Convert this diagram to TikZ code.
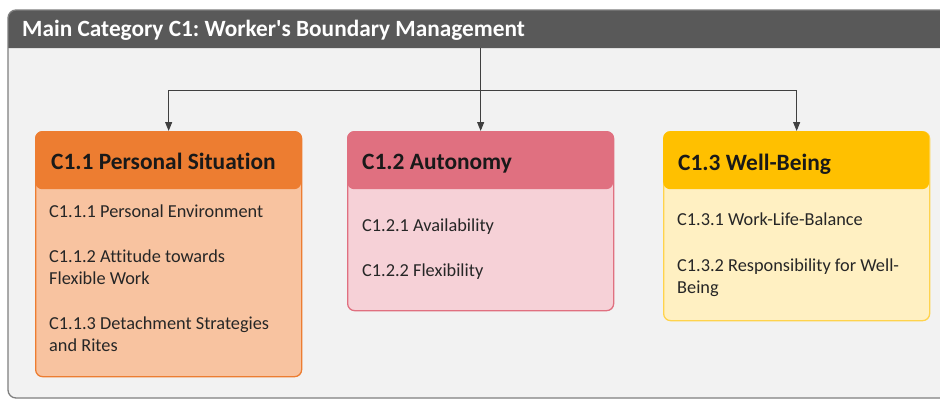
\documentclass[tikz,border=0pt]{standalone}
\usepackage{fontspec}
\setmainfont{Carlito}[Ligatures={TeXOff,NoCommon}]
\usetikzlibrary{arrows.meta}
\frenchspacing
\definecolor{barc}{HTML}{595959}
\definecolor{bodyg}{HTML}{F2F2F2}
\definecolor{framec}{HTML}{7F7F7F}
\definecolor{orH}{HTML}{ED7D31}
\definecolor{orB}{HTML}{F8C3A0}
\definecolor{piH}{HTML}{E07080}
\definecolor{piB}{HTML}{F6D1D7}
\definecolor{yeH}{HTML}{FFC000}
\definecolor{yeB}{HTML}{FFF0C2}
\definecolor{yeD}{HTML}{FFD34D}
\definecolor{linec}{HTML}{404040}
\tikzset{
  boxbody/.style={rectangle, rounded corners=7pt, line width=1.3pt, inner sep=0pt, anchor=north west, minimum width=266pt},
  boxhead/.style={rectangle, rounded corners=7pt, inner sep=0pt, anchor=north west, minimum width=266pt, minimum height=58pt},
  hdr/.style={font=\bfseries\fontsize{23.4}{26}\selectfont, text=black!90, inner sep=0pt, anchor=base west},
  itm/.style={font=\fontsize{18.3}{22}\selectfont, text=black!85, inner sep=0pt, anchor=base west, align=left},
  arr/.style={draw=linec, line width=0.9pt, -{Triangle[width=7pt,length=9pt]}},
}
\begin{document}
\begin{tikzpicture}[x=1pt,y=-1pt]
\useasboundingbox (0,0) rectangle (940,399);
\fill[white] (0,0) rectangle (940,399);
\begin{scope}
\clip (0,0) rectangle (940,399);
\fill[bodyg, rounded corners=8pt] (8,10) rectangle (970,398);
\node[anchor=north west, minimum width=962pt, minimum height=38pt, inner sep=0pt] (bar) at (8,10) {};
\fill[barc, rounded corners=8pt] (8,10) rectangle (970,40);
\fill[barc] (8,30) rectangle (970,48);
\draw[white!80!barc, line width=0.8pt] (8,48) -- (970,48);
\draw[framec, line width=1.3pt, rounded corners=8pt] (8,10) rectangle (970,398);
\end{scope}
\node[font=\bfseries\fontsize{23.3}{26}\selectfont, text=white, inner sep=0pt, anchor=base west] (title) at (22,36.7) {Main Category C1: Worker's Boundary Management};

% boxes
\node[boxbody, draw=orH, fill=orB, minimum height=245pt] (b1) at (35,131) {};
\node[boxhead, fill=orH] (h1) at (35,131) {};
\node[boxbody, draw=piH, fill=piB, minimum height=179pt] (b2) at (347,131) {};
\node[boxhead, fill=piH] (h2) at (347,131) {};
\node[boxbody, draw=yeD, fill=yeB, minimum height=189pt] (b3) at (663,131) {};
\node[boxhead, fill=yeH] (h3) at (663,131) {};

\node[hdr] (t1) at (51,169) {C1.1 Personal Situation};
\node[hdr] (t2) at (362,169) {C1.2 Autonomy};
\node[hdr] (t3) at (678,170) {C1.3 Well-Being};

\node[itm] (i11) at (49,217) {C1.1.1 Personal Environment};
\node[itm] (i12) at (49,284) {C1.1.2 Attitude towards\\Flexible Work};
\node[itm] (i13) at (49,351) {C1.1.3 Detachment Strategies\\and Rites};
\node[itm] (i21) at (362,231) {C1.2.1 Availability};
\node[itm] (i22) at (362,276) {C1.2.2 Flexibility};
\node[itm] (i31) at (677,225) {C1.3.1 Work-Life-Balance};
\node[itm] (i32) at (677,293) {C1.3.2 Responsibility for Well-\\Being};

% connectors
\coordinate (j) at (480,90);
\draw[arr] (bar.south -| b2.north) -- (b2.north);
\draw[arr] (j) -| (b1.north);
\draw[arr] (j) -| (b3.north);
\end{tikzpicture}
\end{document}
